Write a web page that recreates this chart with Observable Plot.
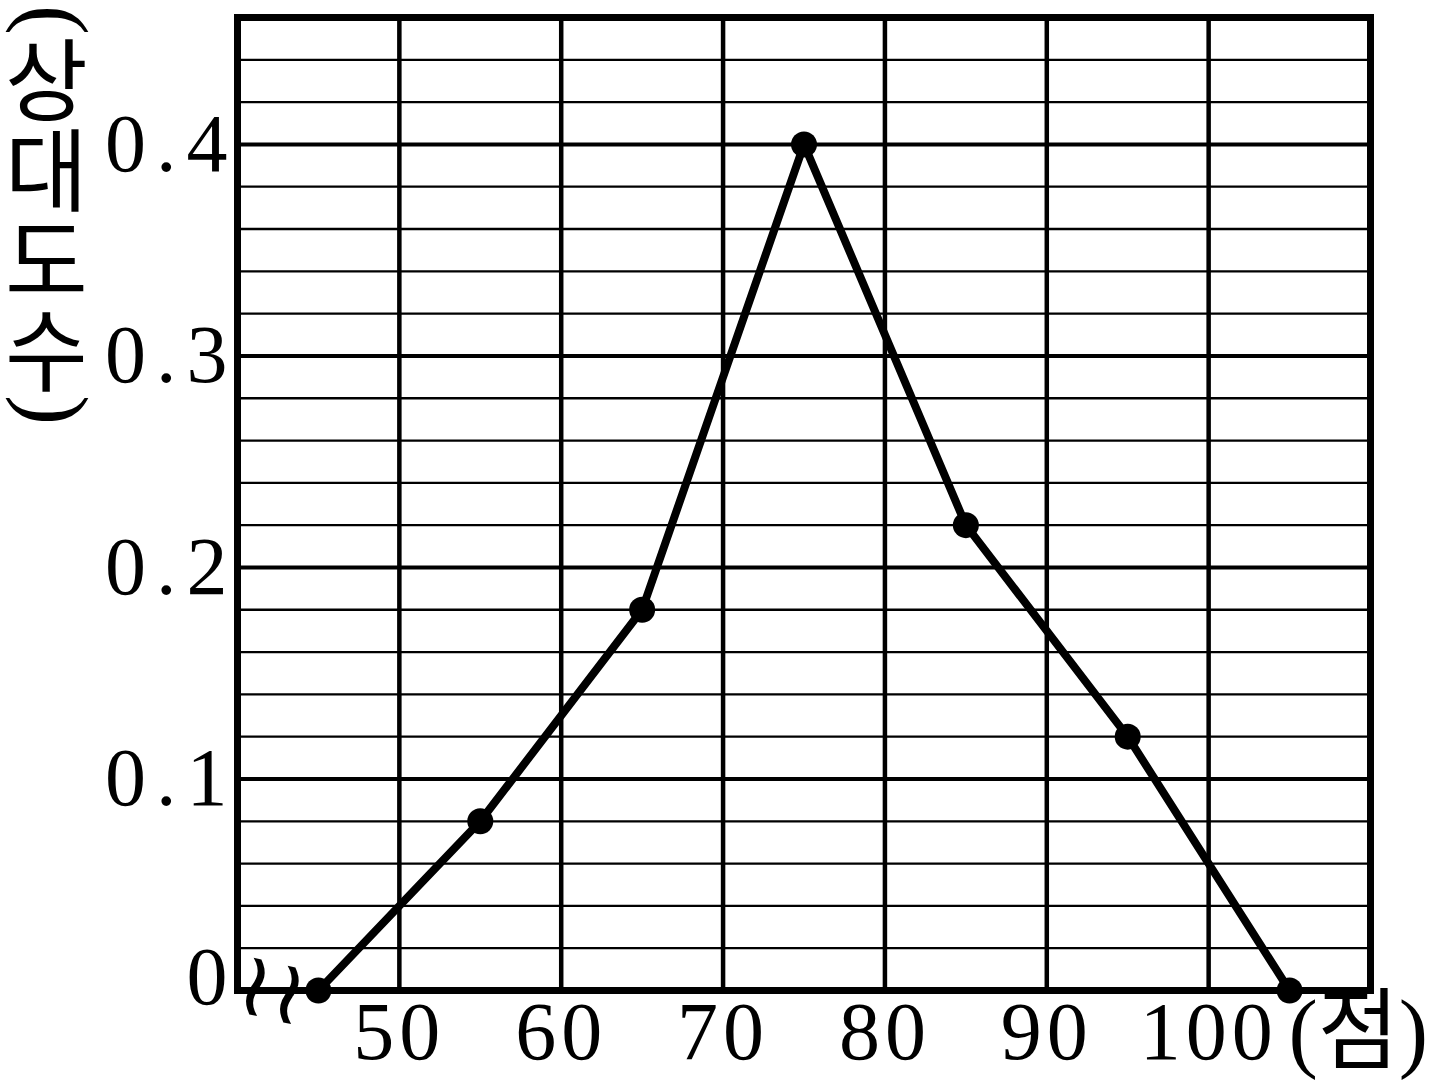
<!DOCTYPE html>
<html>
<head>
<meta charset="utf-8">
<script src="https://cdn.jsdelivr.net/npm/d3@7"></script>
<script src="https://cdn.jsdelivr.net/npm/@observablehq/plot@0.6"></script>
<style>
  html, body { margin: 0; padding: 0; background: #fff; }
  #chart { width: 1443px; height: 1091px; }
</style>
</head>
<body>
<div id="chart"></div>
<script>
// Data
const scores = [45, 55, 65, 75, 85, 95, 105];
const relFreq = [0, 0.08, 0.18, 0.4, 0.22, 0.12, 0];
const xTicks = [50, 60, 70, 80, 90, 100];
const yTicks = [0, 0.1, 0.2, 0.3, 0.4];
const yMinor = [0.02, 0.04, 0.06, 0.08, 0.12, 0.14, 0.16, 0.18, 0.22, 0.24, 0.26, 0.28, 0.32, 0.34, 0.36, 0.38, 0.42, 0.44];
const yLabel = "(상대도수)";
const xUnit = "(점)";

const data = scores.map((s, i) => ({score: s, freq: relFreq[i]}));

const serif = "'Liberation Serif', 'DejaVu Serif', 'Noto Sans CJK KR', serif";

const plot = Plot.plot({
  width: 1443,
  height: 1091,
  marginLeft: 237,
  marginRight: 73,
  marginTop: 17,
  marginBottom: 101,
  style: {fontFamily: serif, background: "#fff", color: "#000"},
  x: {domain: [40, 110]},
  y: {domain: [0, 0.46]},
  marks: [
    Plot.ruleY(yMinor, {stroke: "#000", strokeWidth: 2.3}),
    Plot.ruleY(yTicks, {stroke: "#000", strokeWidth: 4}),
    Plot.ruleX(xTicks, {stroke: "#000", strokeWidth: 4.5}),
    Plot.frame({stroke: "#000", strokeWidth: 7}),
    Plot.axisY({ticks: yTicks, tickSize: 0, tickPadding: 0, fontSize: 82,
      tickFormat: d => d === 0 ? "0" : d.toFixed(1), label: null}),
    Plot.axisX({ticks: xTicks, tickSize: 0, tickPadding: 10, fontSize: 82, label: null}),
    Plot.text([xUnit], {frameAnchor: "bottom-right", textAnchor: "start", lineAnchor: "top",
      dx: -82, dy: 8, fontSize: 88, fill: "#000",
      fontFamily: "'Liberation Serif', 'Noto Sans CJK KR', serif"}),
    Plot.line(data, {x: "score", y: "freq", stroke: "#000", strokeWidth: 8, strokeLinejoin: "round"}),
    Plot.dot(data, {x: "score", y: "freq", r: 13, fill: "#000", stroke: "none"}),
    Plot.text(["≀≀"], {frameAnchor: "bottom-left", textAnchor: "middle", dx: 29, dy: 28,
      rotate: 12, fontSize: 90, fill: "#000", fontFamily: "'DejaVu Serif', serif"})
  ]
});

document.getElementById("chart").appendChild(plot);

const svg = d3.select(plot);
// Wider, Computer-Modern-like spacing of tick labels
svg.selectAll('g[aria-label="y-axis tick label"] text').style("letter-spacing", "10px");
svg.selectAll('g[aria-label="x-axis tick label"] text').style("letter-spacing", "5px");
svg.selectAll('g[aria-label="y-axis tick label"] text').filter(function() { return this.textContent === "0"; })
  .attr("dy", "-0.16em");

// Vertical stacked y-axis label
const chars = Array.from(yLabel);
const vt = svg.append("text")
  .attr("x", 38)
  .attr("y", 5)
  .attr("fill", "#000")
  .attr("text-anchor", "start")
  .style("writing-mode", "vertical-rl")
  .style("letter-spacing", "0px")
  .attr("font-family", "'Liberation Serif', 'Noto Sans CJK KR', serif")
  .attr("font-size", 90);
vt.append("tspan").attr("dx", 17).text(chars[0]);
vt.append("tspan").attr("dx", -17).text(chars.slice(1, -1).join(""));
vt.append("tspan").attr("dx", 17).text(chars[chars.length - 1]);
</script>
</body>
</html>
